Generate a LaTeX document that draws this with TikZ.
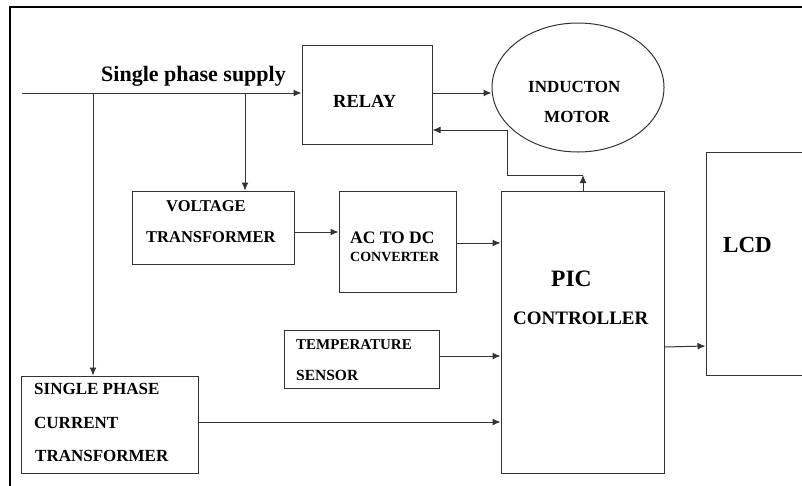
\documentclass[tikz,border=0pt]{standalone}
\usepackage{fontspec}
\setmainfont{LiberationSerif}[Extension=.ttf, UprightFont=*-Regular, BoldFont=*-Bold]
\usetikzlibrary{arrows.meta,shapes.geometric}
\tikzset{
  box/.style={draw=black!80, line width=1pt, rectangle, inner sep=0pt},
  oval/.style={draw=black!80, line width=1pt, ellipse, inner sep=0pt},
  lbl/.style={inner sep=0pt, anchor=base west, font=\bfseries},
  conn/.style={draw=black!80, line width=1pt},
  arr/.style={conn, -{Latex[length=8pt,width=7pt]}},
}
\newcommand{\fs}[1]{\fontsize{#1}{#1}\selectfont}
\begin{document}
\begin{tikzpicture}[x=1pt,y=-1pt]
\useasboundingbox (0,0) rectangle (802,485);
\clip (0,0) rectangle (802,485);
% frame
\draw[line width=2.5pt] (10,490) -- (10,7) -- (810,7);
% boxes
\node[box, minimum width=130, minimum height=99] (relay) at (367,94.5) {};
\node[oval, minimum width=172, minimum height=129] (motor) at (578,87.5) {};
\node[box, minimum width=162, minimum height=73] (vt) at (213,227.5) {};
\node[box, minimum width=117, minimum height=101] (acdc) at (397.5,241.5) {};
\node[box, minimum width=163, minimum height=282] (pic) at (582.5,332) {};
\node[box, minimum width=155, minimum height=58] (temp) at (361.5,359) {};
\node[box, minimum width=177, minimum height=97] (spct) at (109.5,424.5) {};
\node[box, minimum width=106, minimum height=223] (lcd) at (759,263.5) {};
% texts
\node[lbl] (tsup) at (101,81) {\fs{22}Single phase supply};
\node[lbl] (trelay) at (333,107) {\fs{18.5}RELAY};
\node[lbl] (tm1) at (528,92) {\fs{17}INDUCTON};
\node[lbl] (tm2) at (544,122) {\fs{17}MOTOR};
\node[lbl] (tv1) at (166,211) {\fs{16.5}VOLTAGE};
\node[lbl] (tv2) at (146,242) {\fs{16.5}TRANSFORMER};
\node[lbl] (ta1) at (350,243) {\fs{17.5}AC TO DC};
\node[lbl] (ta2) at (350,261) {\fs{14}CONVERTER};
\node[lbl] (tp1) at (551,286) {\fs{23.5}PIC};
\node[lbl] (tp2) at (513,324) {\fs{19}CONTROLLER};
\node[lbl] (tt1) at (296,349) {\fs{15}TEMPERATURE};
\node[lbl] (tt2) at (296,380) {\fs{15.5}SENSOR};
\node[lbl] (ts1) at (34,394) {\fs{17}SINGLE PHASE};
\node[lbl] (ts2) at (34,428) {\fs{17}CURRENT};
\node[lbl] (ts3) at (35,461) {\fs{17}TRANSFORMER};
\node[lbl] (tl) at (723,252) {\fs{23}LCD};
% connectors
\coordinate (s) at (22,93);
\coordinate (b1) at (93,93);
\coordinate (b2) at (245,93);
\draw[arr] (s) -- (s -| relay.west);
\draw[arr] (b1) -- (b1 |- spct.north);
\draw[arr] (b2) -- (b2 |- vt.north);
\draw[arr] (relay.east |- s) -- (s -| motor.west);
\draw[arr] ([yshift=-4.5pt]vt.east) -- ([yshift=-4.5pt]vt.east -| acdc.west);
\draw[arr] ([yshift=-1.5pt]acdc.east) -- ([yshift=-1.5pt]acdc.east -| pic.west);
\draw[arr] (temp.east |- 0,356) -- (pic.west |- 0,356);
\draw[arr] (spct.east |- 0,422) -- (pic.west |- 0,422);
\draw[arr] (pic.east |- 0,347) -- (lcd.west |- 0,346);
\coordinate (up) at (583,175);
\coordinate (kn) at (507,130);
\draw[arr] (pic.north -| up) -- (up);
\draw[arr] (up) -| (kn) -- (kn -| relay.east);
\end{tikzpicture}
\end{document}
